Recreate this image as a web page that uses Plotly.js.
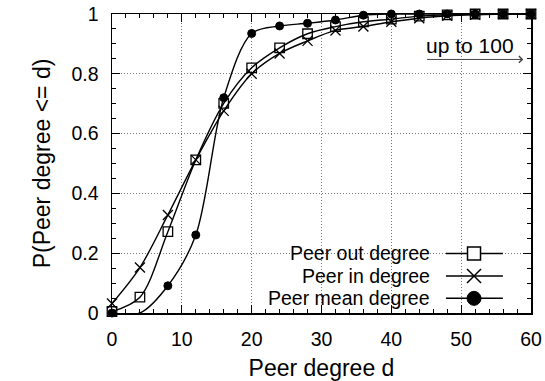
<!DOCTYPE html>
<html>
<head>
<meta charset="utf-8">
<script src="https://cdn.plot.ly/plotly-3.0.1.min.js"></script>
<style>html,body{margin:0;padding:0;background:#fff;}#chart{width:545px;height:381px;}</style>
</head>
<body>
<div id="chart"></div>
<script>
// ---- data ----
const degrees = [0, 4, 8, 12, 16, 20, 24, 28, 32, 36, 40, 44, 48, 52, 56, 60];
const outDegree  = [0.005, 0.053, 0.272, 0.512, 0.701, 0.820, 0.887, 0.934, 0.958, 0.974, 0.983, 0.993, 0.997, 1.0, 1.0, 1.0];
const inDegree   = [0.032, 0.152, 0.328, 0.512, 0.676, 0.800, 0.868, 0.910, 0.945, 0.958, 0.974, 0.986, 0.994, 0.997, 1.0, 1.0];
const meanDegree = [0.0, 0.0, 0.091, 0.261, 0.720, 0.935, 0.960, 0.969, 0.980, 0.996, 1.0, 1.0, 1.0, 1.0, 1.0, 1.0];
const seriesNames = ["Peer out degree", "Peer in degree", "Peer mean degree"];
const xTickVals = [0, 10, 20, 30, 40, 50, 60];
const yTickVals = [0, 0.2, 0.4, 0.6, 0.8, 1];
const yTickText = ["0", "0.2", "0.4", "0.6", "0.8", "1"];

const FONT = "Liberation Sans, Arial, Helvetica, sans-serif";
const lineStyle = {color: "#000", width: 1.4, shape: "spline", smoothing: 0.9};

// mean degree: no marker is drawn at the flat point x=4 in the reference
const meanSizes = degrees.map((d, i) => (i === 1 ? 0 : 8));

const traces = [
  {x: degrees, y: outDegree, name: seriesNames[0], mode: "lines+markers", line: lineStyle, cliponaxis: false,
   marker: {symbol: "square-open", size: 9.5, color: "#000", line: {width: 1.3, color: "#000"}}},
  {x: degrees, y: inDegree, name: seriesNames[1], mode: "lines+markers", line: lineStyle, cliponaxis: false,
   marker: {symbol: "x-thin-open", size: 10, color: "#000", line: {width: 1.3, color: "#000"}}},
  {x: degrees, y: meanDegree, name: seriesNames[2], mode: "lines+markers", line: lineStyle, cliponaxis: false,
   marker: {symbol: "circle", size: meanSizes, color: "#000", opacity: 1, line: {width: 1, color: "#000"}}}
];

// ---- hand-drawn legend (labels left, samples right, as in the reference) ----
const legRowsY = [0.199, 0.124, 0.049];
const legTextX = 0.761, legX0 = 0.797, legX1 = 0.933, legMX = 0.864;
const shapes = [
  {type: "rect", xref: "paper", yref: "paper", x0: 0.262, x1: 0.967, y0: 0.008, y1: 0.239,
   fillcolor: "#fff", line: {width: 0}, layer: "between"}
];
const annotations = [];
legRowsY.forEach((yy, i) => {
  annotations.push({xref: "paper", yref: "paper", x: legTextX, y: yy, xanchor: "right", yanchor: "middle",
    text: seriesNames[i], showarrow: false, borderpad: 0, font: {family: FONT, size: 19.5, color: "#000"}});
  shapes.push({type: "line", xref: "paper", yref: "paper", x0: legX0, x1: legX1, y0: yy, y1: yy,
    line: {color: "#000", width: 1.5}, layer: "above"});
});
// square sample
shapes.push({type: "rect", xref: "paper", yref: "paper", xsizemode: "pixel", ysizemode: "pixel",
  xanchor: legMX, yanchor: legRowsY[0], x0: -6.5, x1: 6.5, y0: -6.5, y1: 6.5,
  fillcolor: "#fff", line: {color: "#000", width: 1.5}, layer: "above"});
// cross sample
shapes.push({type: "line", xref: "paper", yref: "paper", xsizemode: "pixel", ysizemode: "pixel",
  xanchor: legMX, yanchor: legRowsY[1], x0: -7, x1: 7, y0: -7, y1: 7, line: {color: "#000", width: 1.5}, layer: "above"});
shapes.push({type: "line", xref: "paper", yref: "paper", xsizemode: "pixel", ysizemode: "pixel",
  xanchor: legMX, yanchor: legRowsY[1], x0: -7, x1: 7, y0: 7, y1: -7, line: {color: "#000", width: 1.5}, layer: "above"});
// circle sample
shapes.push({type: "circle", xref: "paper", yref: "paper", xsizemode: "pixel", ysizemode: "pixel",
  xanchor: legMX, yanchor: legRowsY[2], x0: -7, x1: 7, y0: -7, y1: 7,
  fillcolor: "#000", line: {color: "#000", width: 1}, layer: "above"});

// "up to 100" note with arrow
annotations.push({x: 51.3, y: 0.896, xref: "x", yref: "y", text: "up to 100", showarrow: false,
  font: {family: FONT, size: 21, color: "#000"}});
annotations.push({x: 58.9, y: 0.848, xref: "x", yref: "y", ax: 44.9, ay: 0.848, axref: "x", ayref: "y",
  text: "", showarrow: true, arrowhead: 4, arrowsize: 1.3, arrowwidth: 1, arrowcolor: "#444"});

const axisCommon = {
  showline: true, linecolor: "#000", linewidth: 1.5, mirror: "ticks",
  ticks: "inside", ticklen: 8, tickwidth: 1, tickcolor: "#000",
  showgrid: true, gridcolor: "#777", griddash: "1px,2px", gridwidth: 1,
  zeroline: false, tickfont: {family: FONT, size: 19.5, color: "#000"}
};
const titleFont = {family: FONT, size: 23, color: "#000"};

const layout = {
  width: 545, height: 381,
  margin: {l: 112, r: 14, t: 14, b: 68},
  paper_bgcolor: "#fff", plot_bgcolor: "#fff",
  showlegend: false,
  xaxis: Object.assign({}, axisCommon, {
    range: [0, 60], tickvals: xTickVals, ticklabelstandoff: 8,
    minor: {dtick: 2, ticks: "inside", ticklen: 4, tickcolor: "#000", showgrid: false},
    title: {text: "Peer degree d", font: titleFont, standoff: 14}
  }),
  yaxis: Object.assign({}, axisCommon, {
    range: [0, 1], tickvals: yTickVals, ticktext: yTickText, ticklabelstandoff: 8,
    minor: {dtick: 0.05, ticks: "inside", ticklen: 4, tickcolor: "#000", showgrid: false},
    title: {text: "P(Peer degree <= d)", font: titleFont, standoff: 14}
  }),
  shapes: shapes,
  annotations: annotations
};

Plotly.newPlot("chart", traces, layout, {staticPlot: true, displayModeBar: false});
</script>
</body>
</html>
